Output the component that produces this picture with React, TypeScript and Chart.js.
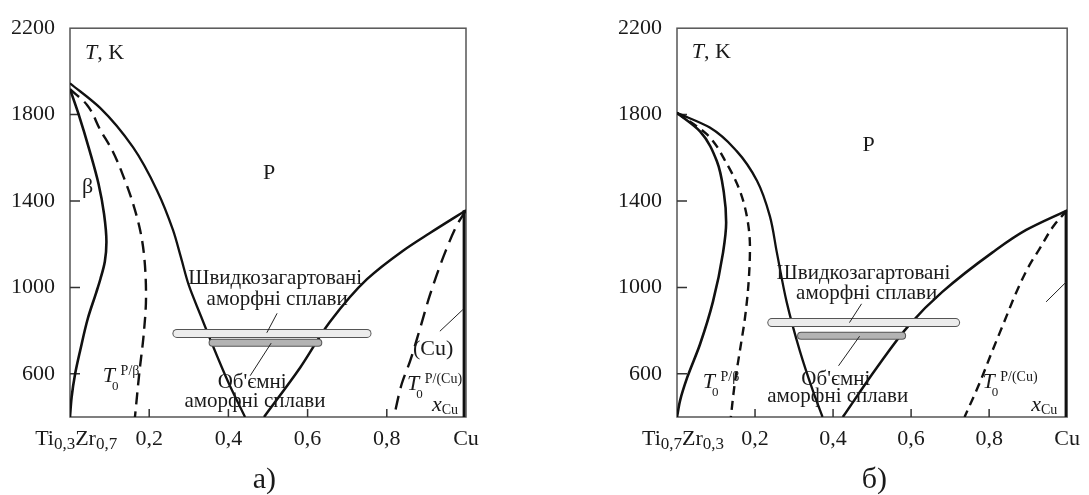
import React, { useEffect, useRef } from "react";
import { Chart, registerables } from "chart.js";
Chart.register(...registerables);

type P = [number, number];

// ---------- shared axes ----------
const yTickValues = [600, 1000, 1400, 1800, 2200];
const xTickValues = [0, 0.2, 0.4, 0.6, 0.8, 1];
const yMin = 400;
const yMax = 2200;

// ---------- panel а) Ti0,3Zr0,7 – Cu ----------
const aBetaSolid: P[] = [[0, 1918], [0.022, 1800], [0.05, 1630], [0.072, 1480], [0.086, 1340], [0.092, 1210], [0.088, 1120], [0.077, 1040], [0.066, 975], [0.045, 856], [0.026, 710], [0.013, 600], [0.004, 490], [0, 400]];
const aBetaT0: P[] = [[0, 1918], [0.043, 1845], [0.076, 1731], [0.109, 1626], [0.139, 1494], [0.159, 1389], [0.177, 1266], [0.187, 1150], [0.192, 960], [0.186, 780], [0.176, 620], [0.164, 400]];
const aLiquidusLeft: P[] = [[0, 1945], [0.076, 1831], [0.159, 1649], [0.22, 1448], [0.26, 1266], [0.28, 1140], [0.3, 1010], [0.33, 870], [0.358, 742], [0.4, 560], [0.442, 400]];
const aLiquidusRight: P[] = [[0.49, 400], [0.581, 628], [0.657, 842], [0.75, 1038], [0.841, 1170], [0.909, 1252], [1, 1357]];
const aCuT0: P[] = [[1, 1357], [0.98, 1298], [0.947, 1161], [0.909, 965], [0.884, 810], [0.859, 660], [0.838, 555], [0.818, 400]];
const aCuSolvus: P[] = [[0.995, 1357], [0.995, 400]];
const aQuenched: P[] = [[0.27, 787], [0.75, 787]];
const aBulk: P[] = [[0.36, 744], [0.627, 744]];
const aLeaderQuenched: P[] = [[0.523, 880], [0.497, 790]];
const aLeaderBulk: P[] = [[0.508, 742], [0.455, 591]];
const aLeaderCu: P[] = [[0.934, 797], [0.992, 897]];

// ---------- panel б) Ti0,7Zr0,3 – Cu ----------
const bBetaSolid: P[] = [[0, 1808], [0.059, 1722], [0.102, 1585], [0.12, 1440], [0.126, 1300], [0.118, 1161], [0.092, 933], [0.059, 737], [0.026, 582], [0.008, 477], [0, 400]];
const bBetaT0: P[] = [[0, 1808], [0.077, 1708], [0.128, 1571], [0.161, 1448], [0.18, 1320], [0.187, 1184], [0.183, 1011], [0.174, 856], [0.161, 705], [0.148, 555], [0.138, 400]];
const bLiquidusLeft: P[] = [[0, 1808], [0.084, 1740], [0.153, 1631], [0.205, 1494], [0.238, 1330], [0.256, 1161], [0.281, 933], [0.315, 705], [0.348, 523], [0.373, 400]];
const bLiquidusRight: P[] = [[0.425, 400], [0.512, 628], [0.596, 828], [0.68, 979], [0.808, 1161], [0.895, 1266], [1, 1357]];
const bCuT0: P[] = [[1, 1357], [0.967, 1289], [0.928, 1175], [0.903, 1102], [0.87, 979], [0.839, 842], [0.808, 705], [0.775, 555], [0.737, 400]];
const bCuSolvus: P[] = [[0.997, 1357], [0.997, 400]];
const bQuenched: P[] = [[0.243, 837], [0.714, 837]];
const bBulk: P[] = [[0.318, 776], [0.577, 776]];
const bLeaderQuenched: P[] = [[0.473, 924], [0.442, 837]];
const bLeaderBulk: P[] = [[0.468, 774], [0.414, 637]];
const bLeaderCu: P[] = [[0.946, 933], [0.997, 1024]];

// ---------- text ----------
const FONT = '"Liberation Serif", "Times New Roman", serif';
type Seg = { t: string; size: number; italic?: boolean; dx?: number; dy?: number };
type Label = { c: number; T: number; segs: Seg[]; align?: "left" | "center" };

const segT0 = (sup: string): Seg[] => [
  { t: "T", size: 22, italic: true },
  { t: "0", size: 13, dx: -3, dy: 8 },
  { t: sup, size: 14, dx: 2, dy: -7 },
];
const segTK: Seg[] = [{ t: "T", size: 22, italic: true }, { t: ", K", size: 22 }];
const segXCu: Seg[] = [{ t: "x", size: 22, italic: true }, { t: "Cu", size: 14, dy: 3 }];
const plain = (t: string, size = 21): Seg[] => [{ t, size }];
const baseLabel = (a: string, b: string): Seg[] => [
  { t: "Ti", size: 22 }, { t: a, size: 17, dy: 4 }, { t: "Zr", size: 22 }, { t: b, size: 17, dy: 4 },
];

const aLabels: Label[] = [
  { c: 0.038, T: 2059, segs: segTK },
  { c: 0.503, T: 1503, segs: plain("P", 22), align: "center" },
  { c: 0.03, T: 1439, segs: plain("β", 22) },
  { c: 0.518, T: 1015, segs: plain("Швидкозагартовані"), align: "center" },
  { c: 0.523, T: 920, segs: plain("аморфні сплави"), align: "center" },
  { c: 0.46, T: 532, segs: plain("Об'ємні"), align: "center" },
  { c: 0.467, T: 446, segs: plain("аморфні сплави"), align: "center" },
  { c: 0.083, T: 564, segs: segT0("P/β") },
  { c: 0.917, T: 687, segs: plain("(Cu)", 22), align: "center" },
  { c: 0.851, T: 523, segs: segT0("P/(Cu)") },
  { c: 0.914, T: 427, segs: segXCu },
  { c: -0.088, T: 272, segs: baseLabel("0,3", "0,7") },
  { c: 0.491, T: 72, segs: plain("а)", 30), align: "center" },
];
const bLabels: Label[] = [
  { c: 0.038, T: 2064, segs: segTK },
  { c: 0.491, T: 1631, segs: plain("P", 22), align: "center" },
  { c: 0.478, T: 1038, segs: plain("Швидкозагартовані"), align: "center" },
  { c: 0.486, T: 947, segs: plain("аморфні сплави"), align: "center" },
  { c: 0.407, T: 546, segs: plain("Об'ємні"), align: "center" },
  { c: 0.412, T: 468, segs: plain("аморфні сплави"), align: "center" },
  { c: 0.066, T: 532, segs: segT0("P/β") },
  { c: 0.783, T: 532, segs: segT0("P/(Cu)") },
  { c: 0.908, T: 427, segs: segXCu },
  { c: -0.0895, T: 272, segs: baseLabel("0,7", "0,3") },
  { c: 0.506, T: 72, segs: plain("б)", 30), align: "center" },
];

const fontOf = (s: Seg) => `${s.italic ? "italic " : ""}${s.size}px ${FONT}`;

function makePlugin(labels: Label[]) {
  return {
    id: "panelDecor",
    beforeDatasetsDraw(chart: any) {
      const { ctx, chartArea, scales } = chart;
      const { left, top, right, bottom } = chartArea;
      ctx.save();
      ctx.strokeStyle = "#555";
      ctx.lineWidth = 1.5;
      ctx.strokeRect(left, top, right - left, bottom - top);
      ctx.strokeStyle = "#333";
      ctx.lineWidth = 1.5;
      ctx.beginPath();
      for (const v of yTickValues) {
        if (v >= yMax) continue;
        const py = scales.y.getPixelForValue(v);
        ctx.moveTo(left, py);
        ctx.lineTo(left + 10, py);
      }
      for (const v of xTickValues) {
        if (v <= 0 || v >= 1) continue;
        const px = scales.x.getPixelForValue(v);
        ctx.moveTo(px, bottom);
        ctx.lineTo(px, bottom - 8);
      }
      ctx.stroke();
      ctx.restore();
    },
    afterDraw(chart: any) {
      const { ctx, scales } = chart;
      ctx.save();
      ctx.fillStyle = "#1a1a1a";
      ctx.textBaseline = "alphabetic";
      ctx.textAlign = "left";
      for (const lb of labels) {
        const px = scales.x.getPixelForValue(lb.c);
        const py = scales.y.getPixelForValue(lb.T);
        let total = 0;
        for (const s of lb.segs) {
          ctx.font = fontOf(s);
          total += (s.dx || 0) + ctx.measureText(s.t).width;
        }
        let cur = lb.align === "center" ? px - total / 2 : px;
        for (const s of lb.segs) {
          ctx.font = fontOf(s);
          cur += s.dx || 0;
          ctx.fillText(s.t, cur, py + (s.dy || 0));
          cur += ctx.measureText(s.t).width;
        }
      }
      ctx.restore();
    },
  };
}

const toXY = (pts: P[]) => pts.map(([x, y]) => ({ x, y }));

function curve(pts: P[], extra: any = {}) {
  return {
    type: "line",
    data: toXY(pts),
    borderColor: "#111",
    borderWidth: 2.5,
    pointRadius: 0,
    cubicInterpolationMode: "monotone",
    fill: false,
    order: 5,
    ...extra,
  };
}

function straight(pts: P[], extra: any = {}) {
  return curve(pts, { cubicInterpolationMode: "default", tension: 0, ...extra });
}

function capsule(pts: P[], fillColor: string, w: number) {
  return [
    straight(pts, { borderColor: "#555", borderWidth: w + 2, borderCapStyle: "round", order: 3 }),
    straight(pts, { borderColor: fillColor, borderWidth: w, borderCapStyle: "round", order: 2 }),
  ];
}

function leader(pts: P[]) {
  return straight(pts, { borderColor: "#222", borderWidth: 1, order: 1 });
}

type PanelSpec = {
  betaSolid: P[]; betaT0: P[]; liqL: P[]; liqR: P[]; cuT0: P[]; cuSolvus: P[];
  quenched: P[]; bulk: P[]; leaders: P[][]; labels: Label[];
  dashBeta: number[]; dashCu: number[]; axisW: number; padRight: number;
};

function buildConfig(p: PanelSpec): any {
  return {
    type: "line",
    data: {
      datasets: [
        curve(p.betaSolid, { borderWidth: 2.6 }),
        curve(p.betaT0, { borderDash: p.dashBeta, borderWidth: 2.4 }),
        curve(p.liqL, { borderWidth: 2.3 }),
        curve(p.liqR, { borderWidth: 2.5 }),
        curve(p.cuT0, { borderDash: p.dashCu, borderWidth: 2.4 }),
        straight(p.cuSolvus, { borderWidth: 2.8 }),
        ...capsule(p.quenched, "#ececec", 7),
        ...capsule(p.bulk, "#b3b3b3", 6),
        ...p.leaders.map(leader),
      ],
    },
    options: {
      animation: false,
      responsive: false,
      indexAxis: "y",
      events: [],
      layout: { padding: { left: 0, right: p.padRight, top: 22, bottom: 38 } },
      plugins: { legend: { display: false }, tooltip: { enabled: false }, title: { display: false } },
      scales: {
        x: {
          type: "linear",
          position: "bottom",
          min: 0,
          max: 1,
          grid: { display: false, drawTicks: false },
          border: { display: false },
          afterBuildTicks: (s: any) => { s.ticks = xTickValues.map((v) => ({ value: v })); },
          afterFit: (s: any) => { s.height = 40; },
          ticks: {
            padding: 9,
            color: "#1a1a1a",
            font: { family: FONT, size: 22 },
            maxRotation: 0,
            autoSkip: false,
            callback: (v: number) => (v === 0 ? "" : v === 1 ? "Cu" : v.toFixed(1).replace(".", ",")),
          },
        },
        y: {
          type: "linear",
          position: "left",
          min: yMin,
          max: yMax,
          grid: { display: false, drawTicks: false },
          border: { display: false },
          afterBuildTicks: (s: any) => { s.ticks = yTickValues.map((v) => ({ value: v })); },
          afterFit: (s: any) => { s.width = p.axisW; },
          ticks: {
            padding: 15,
            color: "#1a1a1a",
            font: { family: FONT, size: 22 },
            autoSkip: false,
            callback: (v: number) => String(v),
          },
        },
      },
    },
    plugins: [makePlugin(p.labels)],
  };
}

const panelA: PanelSpec = {
  betaSolid: aBetaSolid, betaT0: aBetaT0, liqL: aLiquidusLeft, liqR: aLiquidusRight, cuT0: aCuT0, cuSolvus: aCuSolvus,
  quenched: aQuenched, bulk: aBulk, leaders: [aLeaderQuenched, aLeaderBulk, aLeaderCu], labels: aLabels,
  dashBeta: [12, 7], dashCu: [14, 8], axisW: 70, padRight: 78,
};
const panelB: PanelSpec = {
  betaSolid: bBetaSolid, betaT0: bBetaT0, liqL: bLiquidusLeft, liqR: bLiquidusRight, cuT0: bCuT0, cuSolvus: bCuSolvus,
  quenched: bQuenched, bulk: bBulk, leaders: [bLeaderQuenched, bLeaderBulk, bLeaderCu], labels: bLabels,
  dashBeta: [9, 6], dashCu: [9, 6], axisW: 133, padRight: 21,
};

function Panel({ spec, left, width }: { spec: PanelSpec; left: number; width: number }) {
  const ref = useRef<HTMLCanvasElement>(null);
  useEffect(() => {
    if (!ref.current) return;
    const chart = new Chart(ref.current, buildConfig(spec));
    return () => chart.destroy();
  }, [spec]);
  return (
    <canvas
      ref={ref}
      width={width}
      height={495}
      style={{ position: "absolute", left, top: 0, width, height: 495, display: "block" }}
    />
  );
}

export default function App() {
  return (
    <div style={{ position: "absolute", left: 0, top: 0, width: 1089, height: 495, background: "#fff", overflow: "hidden" }}>
      <Panel spec={panelA} left={0} width={544} />
      <Panel spec={panelB} left={544} width={545} />
    </div>
  );
}
